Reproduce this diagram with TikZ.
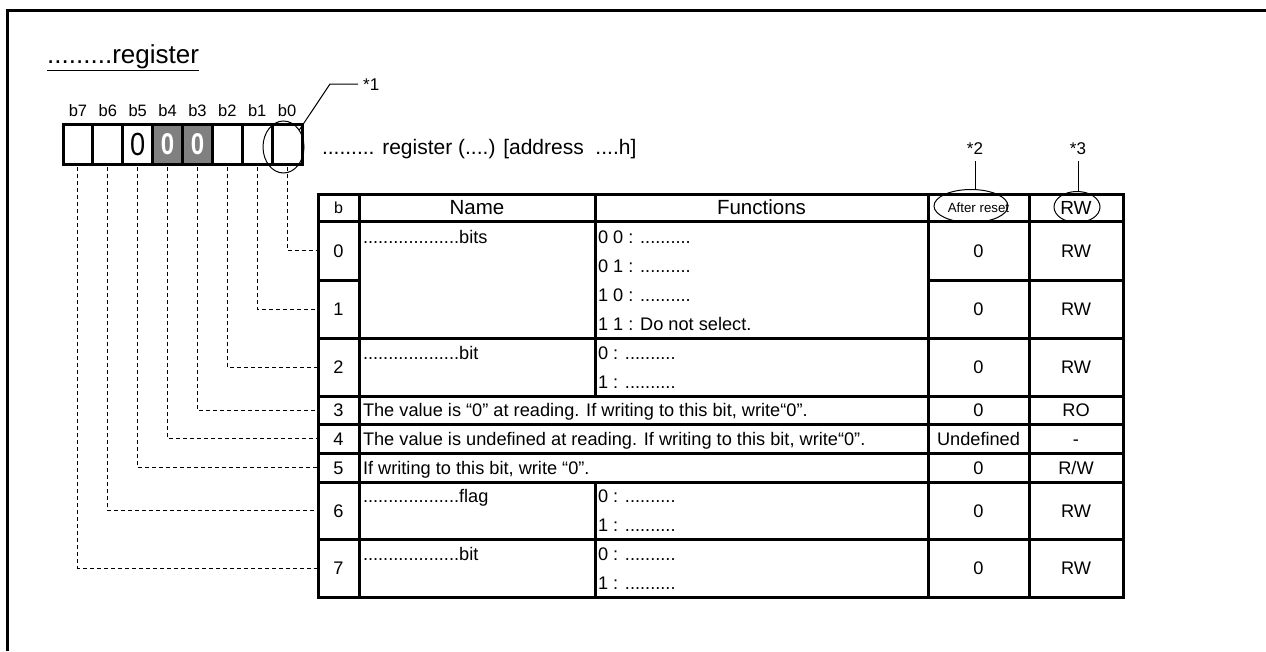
\documentclass[tikz,border=0pt]{standalone}
\usepackage{fontspec}
\setmainfont{Liberation Sans}
\usetikzlibrary{shapes.geometric}
\newcommand{\fsz}[1]{\fontsize{#1}{#1}\selectfont}
\newcommand{\bigzero}{\scalebox{0.85}[1]{0}}
\newcommand{\boldzero}{\scalebox{0.8}[1]{\bfseries 0}}
\definecolor{regfill}{HTML}{808080}
\tikzset{
  cell/.style={draw, line width=3pt, inner sep=0pt, outer sep=0pt, anchor=north west,
    font=\fsz{18.2}, text height=13pt, text depth=0pt},
  txt/.style={inner sep=0pt, outer sep=0pt, anchor=west, font=\fsz{18.2}, text height=13pt, text depth=0pt},
  regcell/.style={draw, line width=3pt, inner sep=0pt, outer sep=0pt, anchor=north west,
    minimum width=29.875pt, minimum height=40pt, font=\fsz{32}, text height=22.9pt, text depth=0pt},
  greycell/.style={regcell, fill=regfill, text=white, font=\fsz{30}, text height=21.5pt},
  bitlbl/.style={inner sep=0pt, font=\fsz{16.5}, text height=11.8pt, text depth=0pt},
  star/.style={inner sep=0pt, font=\fsz{17}, text height=12.2pt, text depth=0pt},
  ell/.style={draw, ellipse, line width=1pt, inner sep=0pt, outer sep=0pt},
  lead/.style={line width=1pt},
  dl/.style={line width=1pt, dash pattern=on 4pt off 3pt},
}
\begin{document}
\begin{tikzpicture}[x=1pt, y=-1pt]
\useasboundingbox (0,0) rectangle (1266,651);
% frame
\draw[line width=3pt] (7.5,651) -- (7.5,10.5) -- (1266,10.5);
% title
\node[anchor=base west, inner sep=0pt, font=\fsz{26}] (title) at (47,63) {\underline{.........register}};
% register cells
\node[regcell] (r7) at (63,124) {};
\node[regcell] (r6) at (92.875,124) {};
\node[regcell] (r5) at (122.75,124) {\bigzero};
\node[greycell] (r4) at (152.625,124) {\boldzero};
\node[greycell] (r3) at (182.5,124) {\boldzero};
\node[regcell] (r2) at (212.375,124) {};
\node[regcell] (r1) at (242.25,124) {};
\node[regcell] (r0) at (272.125,124) {};
% bit labels
\foreach \i in {7,...,0} {
  \node[bitlbl] (l\i) at ([yshift=13pt]r\i.north) {b\i};
}
% register caption
\node[txt, font=\fsz{21}, text height=15pt] (cap) at (322,147) {......... register (....) [address \ ....h]};
% ellipse *1
\node[ell, minimum width=41pt, minimum height=52pt] (e1) at (283.5,147) {};
\coordinate (k1) at (330,84);
\node[star, anchor=west] (s1) at (363,84) {*1};
\draw[lead] (e1.47) -- (k1) -- ([xshift=-5pt]s1.west);
% header
\node[cell, minimum width=41pt, minimum height=27pt, font=\fsz{16}, text height=11.5pt] (hb) at (318,194) {b};
\node[cell, minimum width=236pt, minimum height=27pt, font=\fsz{20.5}, text height=14.7pt] (hn) at (359,194) {Name};
\node[cell, minimum width=333pt, minimum height=27pt, font=\fsz{20.5}, text height=14.7pt] (hf) at (595,194) {Functions};
\node[cell, minimum width=101pt, minimum height=27pt, font=\fsz{13.3}, text height=9.6pt] (ha) at (928,194) {After reset};
\node[cell, minimum width=94pt, minimum height=27pt, font=\fsz{19}, text height=13.6pt] (hr) at (1029,194) {RW};
% row 0 / 1
\node[cell, minimum width=41pt, minimum height=59pt] (b0) at (318,221) {0};
\node[cell, minimum width=236pt, minimum height=117pt] (n01) at (359,221) {};
\node[cell, minimum width=333pt, minimum height=117pt] (f01) at (595,221) {};
\node[cell, minimum width=101pt, minimum height=59pt] (a0) at (928,221) {0};
\node[cell, minimum width=94pt, minimum height=59pt] (w0) at (1029,221) {RW};
\node[cell, minimum width=41pt, minimum height=58pt] (b1) at (318,280) {1};
\node[cell, minimum width=101pt, minimum height=58pt] (a1) at (928,280) {0};
\node[cell, minimum width=94pt, minimum height=58pt] (w1) at (1029,280) {RW};
% row 2
\node[cell, minimum width=41pt, minimum height=58pt] (b2) at (318,338) {2};
\node[cell, minimum width=236pt, minimum height=58pt] (n2) at (359,338) {};
\node[cell, minimum width=333pt, minimum height=58pt] (f2) at (595,338) {};
\node[cell, minimum width=101pt, minimum height=58pt] (a2) at (928,338) {0};
\node[cell, minimum width=94pt, minimum height=58pt] (w2) at (1029,338) {RW};
% row 3
\node[cell, minimum width=41pt, minimum height=28pt] (b3) at (318,396) {3};
\node[cell, minimum width=569pt, minimum height=28pt] (m3) at (359,396) {};
\node[cell, minimum width=101pt, minimum height=28pt] (a3) at (928,396) {0};
\node[cell, minimum width=94pt, minimum height=28pt] (w3) at (1029,396) {RO};
% row 4
\node[cell, minimum width=41pt, minimum height=29pt] (b4) at (318,424) {4};
\node[cell, minimum width=569pt, minimum height=29pt] (m4) at (359,424) {};
\node[cell, minimum width=101pt, minimum height=29pt] (a4) at (928,424) {Undefined};
\node[cell, minimum width=94pt, minimum height=29pt] (w4) at (1029,424) {-};
% row 5
\node[cell, minimum width=41pt, minimum height=29pt] (b5) at (318,453) {5};
\node[cell, minimum width=569pt, minimum height=29pt] (m5) at (359,453) {};
\node[cell, minimum width=101pt, minimum height=29pt] (a5) at (928,453) {0};
\node[cell, minimum width=94pt, minimum height=29pt] (w5) at (1029,453) {R/W};
% row 6
\node[cell, minimum width=41pt, minimum height=57pt] (b6) at (318,482) {6};
\node[cell, minimum width=236pt, minimum height=57pt] (n6) at (359,482) {};
\node[cell, minimum width=333pt, minimum height=57pt] (f6) at (595,482) {};
\node[cell, minimum width=101pt, minimum height=57pt] (a6) at (928,482) {0};
\node[cell, minimum width=94pt, minimum height=57pt] (w6) at (1029,482) {RW};
% row 7
\node[cell, minimum width=41pt, minimum height=58pt] (b7) at (318,539) {7};
\node[cell, minimum width=236pt, minimum height=58pt] (n7) at (359,539) {};
\node[cell, minimum width=333pt, minimum height=58pt] (f7) at (595,539) {};
\node[cell, minimum width=101pt, minimum height=58pt] (a7) at (928,539) {0};
\node[cell, minimum width=94pt, minimum height=58pt] (w7) at (1029,539) {RW};
% texts
\node[txt] (t0n) at (363,236.5) {...................bits};
\node[txt] (t0a) at (598,236.5) {0 0 : ..........};
\node[txt] (t0b) at (598,265.5) {0 1 : ..........};
\node[txt] (t1a) at (598,294.5) {1 0 : ..........};
\node[txt] (t1b) at (598,323.5) {1 1 : Do not select.};
\node[txt] (t2n) at (363,352.5) {...................bit};
\node[txt] (t2a) at (598,352.5) {0 : ..........};
\node[txt] (t2b) at (598,381.5) {1 : ..........};
\node[txt] (t3) at (363,410) {The value is “0” at reading. If writing to this bit, write“0”.};
\node[txt] (t4) at (363,438.5) {The value is undefined at reading. If writing to this bit, write“0”.};
\node[txt] (t5) at (363,467.5) {If writing to this bit, write “0”.};
\node[txt] (t6n) at (363,496) {...................flag};
\node[txt] (t6a) at (598,496) {0 : ..........};
\node[txt] (t6b) at (598,525) {1 : ..........};
\node[txt] (t7n) at (363,553.5) {...................bit};
\node[txt] (t7a) at (598,553.5) {0 : ..........};
\node[txt] (t7b) at (598,582.5) {1 : ..........};
% ellipses *2 *3
\node[ell, minimum width=74pt, minimum height=33pt] (e2) at (971,206) {};
\node[ell, minimum width=46pt, minimum height=31pt] (e3) at (1077,207) {};
\node[star] (s2) at (975,148) {*2};
\node[star] (s3) at (1078,148) {*3};
\draw[lead] ([yshift=-7pt]s2.south) -- (e2.north -| s2.south);
\draw[lead] ([yshift=-7pt]s3.south) -- (e3.north -| s3.south);
% dashed connectors
\foreach \i in {0,...,7} {
  \draw[dl] ([yshift=-3pt]r\i.south) |- (b\i.west);
}
\end{tikzpicture}
\end{document}
